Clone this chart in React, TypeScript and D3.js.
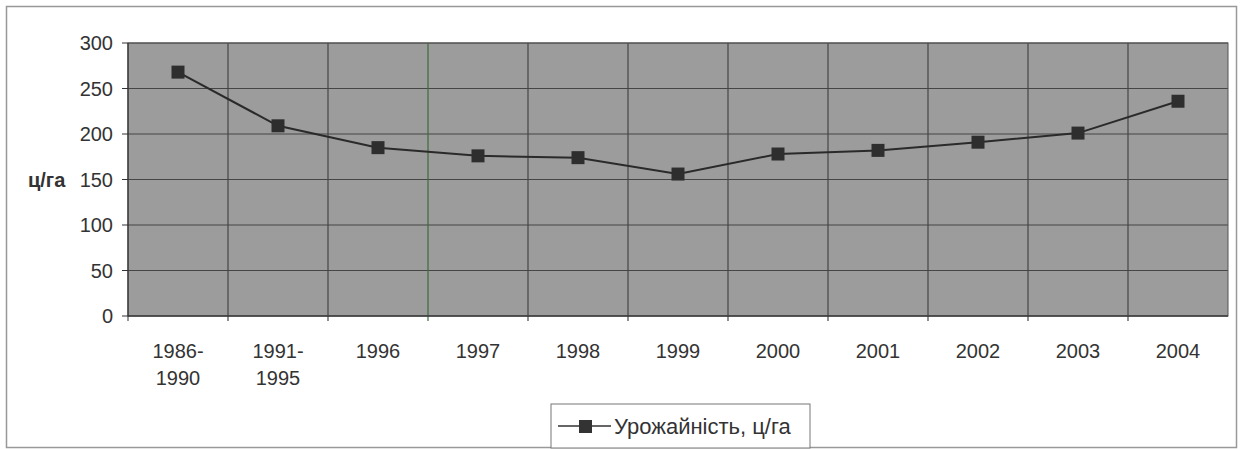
import React from 'react';
import * as d3 from 'd3';

const categories = ['1986-|1990', '1991-|1995', '1996', '1997', '1998', '1999', '2000', '2001', '2002', '2003', '2004'];
const yieldValues = [268, 209, 185, 176, 174, 156, 178, 182, 191, 201, 236];
const yTicks = [0, 50, 100, 150, 200, 250, 300];

const W = 1240;
const H = 449;
const margin = { top: 43, right: 12, bottom: 133, left: 128 };

const App = () => {
  const innerW = W - margin.left - margin.right;
  const innerH = H - margin.top - margin.bottom;

  const x = d3.scaleBand().domain(categories).range([0, innerW]);
  const y = d3.scaleLinear().domain([0, 300]).range([innerH, 0]);

  const line = d3
    .line<number>()
    .x((d, i) => (x(categories[i]) as number) + x.bandwidth() / 2)
    .y((d) => y(d));

  const font = 'Liberation Sans, Arial, sans-serif';

  return (
    <svg
      width={W}
      height={H}
      style={{ position: 'absolute', left: 0, top: 0, background: '#fff' }}
      fontFamily={font}
    >
      {/* outer chart frame */}
      <rect x={6.5} y={6.5} width={1230} height={441} fill="#fff" stroke="#999" strokeWidth={1.5} />

      <g transform={`translate(${margin.left},${margin.top})`}>
        <rect width={innerW} height={innerH} fill="#9c9c9c" />

        {/* horizontal grid */}
        {yTicks.map((t) => (
          <line key={'h' + t} x1={0} x2={innerW} y1={y(t)} y2={y(t)} stroke="#454545" strokeWidth={1.2} />
        ))}
        {/* vertical grid */}
        {categories.map((c, i) =>
          i === 0 ? null : (
            <line
              key={'v' + c}
              x1={x(c)}
              x2={x(c)}
              y1={0}
              y2={innerH + 5}
              stroke={i === 3 ? '#3f6b3f' : '#454545'}
              strokeWidth={1.2}
            />
          )
        )}
        <rect width={innerW} height={innerH} fill="none" stroke="#555" strokeWidth={1} />

        {/* y axis */}
        <line x1={0} x2={0} y1={0} y2={innerH} stroke="#333" strokeWidth={1.2} />
        {yTicks.map((t) => (
          <g key={'yt' + t} transform={`translate(0,${y(t)})`}>
            <line x1={-6} x2={0} stroke="#333" />
            <text x={-15} dy="0.35em" textAnchor="end" fontSize={20} fill="#333">
              {t}
            </text>
          </g>
        ))}
        <text x={-100} y={y(150)} dy="0.35em" fontSize={20} fontWeight="bold" fill="#333">
          ц/га
        </text>

        {/* x axis */}
        <line x1={0} x2={innerW} y1={innerH} y2={innerH} stroke="#333" strokeWidth={1.2} />
        <line x1={0} x2={0} y1={innerH} y2={innerH + 5} stroke="#333" />
        {categories.map((c) => (
          <text
            key={'xl' + c}
            x={(x(c) as number) + x.bandwidth() / 2}
            y={innerH + 42}
            textAnchor="middle"
            fontSize={20}
            fill="#333"
          >
            {c.split('|').map((part, j) => (
              <tspan key={j} x={(x(c) as number) + x.bandwidth() / 2} dy={j === 0 ? 0 : 27}>
                {part}
              </tspan>
            ))}
          </text>
        ))}

        {/* series */}
        <path d={line(yieldValues) || ''} fill="none" stroke="#2a2a2a" strokeWidth={2} />
        {yieldValues.map((v, i) => (
          <rect
            key={'m' + i}
            x={(x(categories[i]) as number) + x.bandwidth() / 2 - 6.5}
            y={y(v) - 6.5}
            width={13}
            height={13}
            fill="#2e2e2e"
          />
        ))}
      </g>

      {/* legend */}
      <g transform="translate(551,404)">
        <rect width={259} height={44} fill="#fff" stroke="#777" strokeWidth={1} />
        <line x1={7} x2={60} y1={22} y2={22} stroke="#333" strokeWidth={1.5} />
        <rect x={28} y={16} width={13} height={13} fill="#333" />
        <text x={63} y={22} dy="0.35em" fontSize={22} fill="#333">
          Урожайність, ц/га
        </text>
      </g>
    </svg>
  );
};

export default App;
